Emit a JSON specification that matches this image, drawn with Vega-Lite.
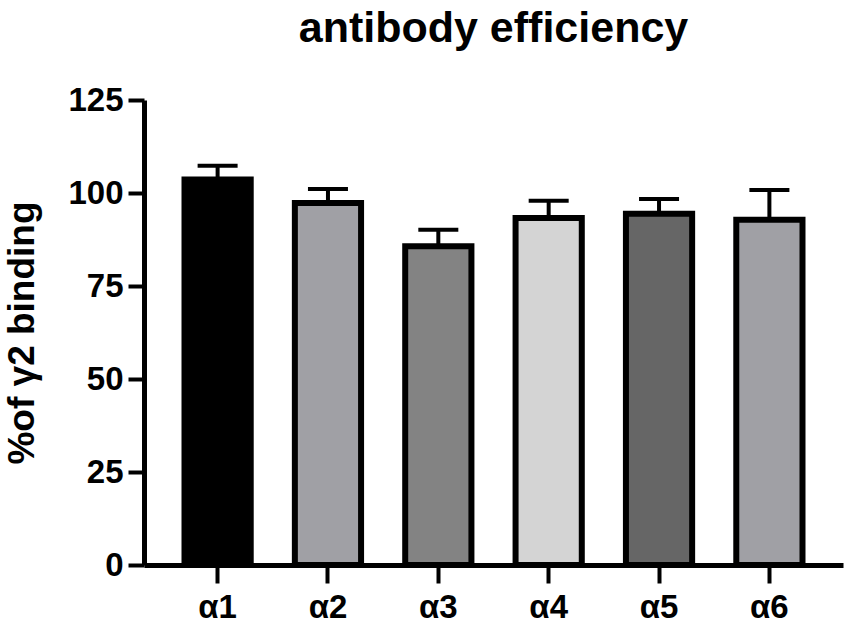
{
  "$schema": "https://vega.github.io/schema/vega-lite/v6.json",
  "description": "antibody efficiency",
  "autosize": {"type": "none"},
  "width": 699,
  "height": 465,
  "padding": {"left": 144, "top": 100, "right": 7, "bottom": 60},
  "background": "white",
  "config": {
    "font": "Liberation Sans",
    "view": {"stroke": null}
  },
  "title": {
    "text": "antibody efficiency",
    "fontSize": 43,
    "fontWeight": "bold",
    "color": "black",
    "anchor": "middle",
    "offset": 33
  },
  "data": {
    "values": [
      {"antibody": "α1", "value": 103.6, "upper": 107.3},
      {"antibody": "α2", "value": 97.3, "upper": 101.1},
      {"antibody": "α3", "value": 85.7, "upper": 90.1},
      {"antibody": "α4", "value": 93.3, "upper": 97.9},
      {"antibody": "α5", "value": 94.4, "upper": 98.4},
      {"antibody": "α6", "value": 92.8, "upper": 100.8}
    ]
  },
  "encoding": {
    "x": {
      "field": "antibody",
      "type": "nominal",
      "sort": null,
      "scale": {"paddingInner": 0.4, "paddingOuter": 0.367},
      "axis": {
        "title": null,
        "labelAngle": 0,
        "labelFontSize": 33,
        "labelFontWeight": "bold",
        "labelColor": "black",
        "labelPadding": 8,
        "domainColor": "black",
        "domainWidth": 5,
        "tickColor": "black",
        "tickWidth": 4,
        "tickSize": 18,
        "zindex": 1
      }
    }
  },
  "layer": [
    {
      "mark": {"type": "rule", "stroke": "black", "strokeWidth": 4},
      "encoding": {
        "y": {"field": "value", "type": "quantitative"},
        "y2": {"field": "upper"}
      }
    },
    {
      "mark": {"type": "tick", "color": "black", "size": 40, "thickness": 4, "opacity": 1},
      "encoding": {
        "y": {"field": "upper", "type": "quantitative"}
      }
    },
    {
      "mark": {"type": "bar", "stroke": "black", "strokeWidth": 6, "strokeJoin": "miter"},
      "encoding": {
        "y": {
          "field": "value",
          "type": "quantitative",
          "scale": {"domain": [0, 125], "nice": false},
          "axis": {
            "title": "%of γ2 binding",
            "titleFontSize": 37,
            "titleFontWeight": "bold",
            "titleColor": "black",
            "titlePadding": 26,
            "values": [0, 25, 50, 75, 100, 125],
            "grid": false,
            "labelFontSize": 33,
            "labelFontWeight": "bold",
            "labelColor": "black",
            "labelPadding": 5,
            "domainColor": "black",
            "domainWidth": 5,
            "tickColor": "black",
            "tickWidth": 4,
            "tickSize": 16,
            "zindex": 1
          }
        },
        "fill": {
          "field": "antibody",
          "type": "nominal",
          "scale": {
            "domain": ["α1", "α2", "α3", "α4", "α5", "α6"],
            "range": ["#000000", "#a0a0a5", "#838383", "#d4d4d4", "#666666", "#a0a0a5"]
          },
          "legend": null
        }
      }
    }
  ]
}
